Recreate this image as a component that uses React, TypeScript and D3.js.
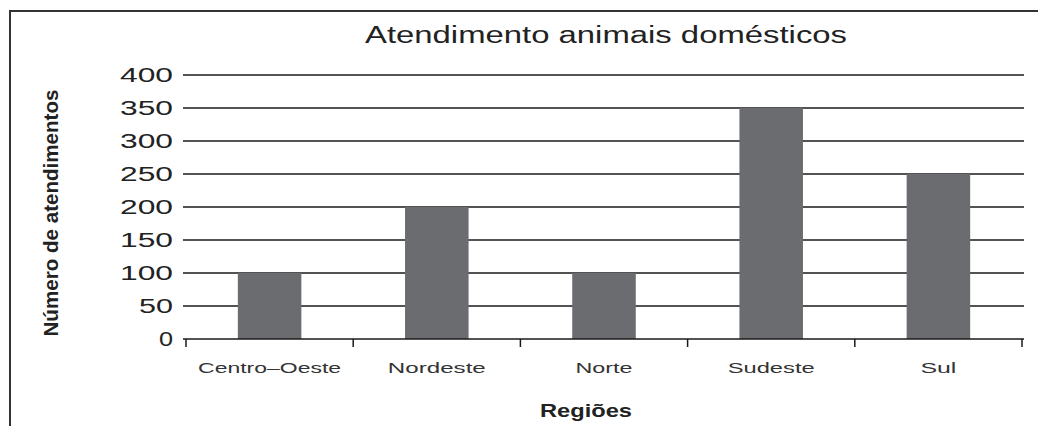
import { useEffect, useRef } from 'react';
import * as d3 from 'd3';

const regions = ['Centro–Oeste', 'Nordeste', 'Norte', 'Sudeste', 'Sul'];
const atendimentos = [100, 200, 100, 350, 250];
const yTicks = [0, 50, 100, 150, 200, 250, 300, 350, 400];
// measured widths of the stretched labels in the picture
const xLabelWidths = [143, 98, 57, 87, 36];
const yLabelWidths = [14, 34, 53, 53, 53, 53, 53, 53, 53];

const WIDTH = 1038;
const HEIGHT = 426;
const FONT = '"Liberation Sans", Arial, sans-serif';

export default function App() {
  const svgRef = useRef<SVGSVGElement>(null);

  useEffect(() => {
    if (!svgRef.current) return;
    const svg = d3.select(svgRef.current);
    svg.selectAll('*').remove();

    const plot = { left: 183, right: 1024, top: 75, bottom: 339 };

    // frame (only top and left edges show)
    svg
      .append('path')
      .attr('d', `M10,${HEIGHT} V11 H${WIDTH}`)
      .attr('fill', 'none')
      .attr('stroke', '#333')
      .attr('stroke-width', 2);

    const y = d3.scaleLinear().domain([0, 400]).range([plot.bottom, plot.top]);

    // band scales: one without padding for ticks, one for bars
    const xOuter = d3.scaleBand<string>().domain(regions).range([186, 1022]).padding(0);
    const xBar = d3
      .scaleBand<string>()
      .domain(regions)
      .range([186, 1022])
      .paddingInner(0.62)
      .paddingOuter(0.31);

    // gridlines
    svg
      .append('g')
      .selectAll('line')
      .data(yTicks.filter((t) => t > 0))
      .enter()
      .append('line')
      .attr('x1', plot.left)
      .attr('x2', plot.right)
      .attr('y1', (d) => y(d))
      .attr('y2', (d) => y(d))
      .attr('stroke', '#1a1a1a')
      .attr('stroke-width', 1.5);

    // y tick labels
    svg
      .append('g')
      .selectAll('text')
      .data(yTicks)
      .enter()
      .append('text')
      .attr('x', 173)
      .attr('y', (d) => y(d) + 7)
      .attr('text-anchor', 'end')
      .attr('textLength', (_, i) => yLabelWidths[i])
      .attr('lengthAdjust', 'spacingAndGlyphs')
      .style('font-family', FONT)
      .style('font-size', '20px')
      .style('fill', '#222')
      .text((d) => d);

    // bars
    svg
      .append('g')
      .selectAll('rect')
      .data(regions)
      .enter()
      .append('rect')
      .attr('x', (d) => xBar(d) || 0)
      .attr('width', xBar.bandwidth())
      .attr('y', (_, i) => y(atendimentos[i]))
      .attr('height', (_, i) => plot.bottom - y(atendimentos[i]))
      .attr('fill', '#6b6c70');

    // x axis line and ticks
    svg
      .append('line')
      .attr('x1', plot.left)
      .attr('x2', plot.right)
      .attr('y1', plot.bottom)
      .attr('y2', plot.bottom)
      .attr('stroke', '#1a1a1a')
      .attr('stroke-width', 1.5);

    const tickXs = regions.map((r) => xOuter(r) || 0).concat([1022]);
    svg
      .append('g')
      .selectAll('line')
      .data(tickXs)
      .enter()
      .append('line')
      .attr('x1', (d) => d)
      .attr('x2', (d) => d)
      .attr('y1', plot.bottom)
      .attr('y2', plot.bottom + 8)
      .attr('stroke', '#1a1a1a')
      .attr('stroke-width', 1.5);

    // x labels
    svg
      .append('g')
      .selectAll('text')
      .data(regions)
      .enter()
      .append('text')
      .attr('x', (d) => (xOuter(d) || 0) + xOuter.bandwidth() / 2)
      .attr('y', 373)
      .attr('text-anchor', 'middle')
      .attr('textLength', (_, i) => xLabelWidths[i])
      .attr('lengthAdjust', 'spacingAndGlyphs')
      .style('font-family', FONT)
      .style('font-size', '15px')
      .style('fill', '#333')
      .text((d) => d);

    // title
    svg
      .append('text')
      .attr('x', 606)
      .attr('y', 43)
      .attr('text-anchor', 'middle')
      .attr('textLength', 482)
      .attr('lengthAdjust', 'spacingAndGlyphs')
      .style('font-family', FONT)
      .style('font-size', '23px')
      .style('fill', '#222')
      .text('Atendimento animais domésticos');

    // axis titles
    svg
      .append('text')
      .attr('x', 586)
      .attr('y', 417)
      .attr('text-anchor', 'middle')
      .attr('textLength', 92)
      .attr('lengthAdjust', 'spacingAndGlyphs')
      .style('font-family', FONT)
      .style('font-size', '19px')
      .style('font-weight', 'bold')
      .style('fill', '#222')
      .text('Regiões');

    svg
      .append('text')
      .attr('transform', 'translate(58, 213) rotate(-90)')
      .attr('text-anchor', 'middle')
      .attr('textLength', 247)
      .attr('lengthAdjust', 'spacingAndGlyphs')
      .style('font-family', FONT)
      .style('font-size', '21px')
      .style('font-weight', 'bold')
      .style('fill', '#222')
      .text('Número de atendimentos');
  }, []);

  return (
    <div style={{ position: 'absolute', left: 0, top: 0 }}>
      <svg ref={svgRef} width={WIDTH} height={HEIGHT} style={{ display: 'block', background: '#fff' }} />
    </div>
  );
}
